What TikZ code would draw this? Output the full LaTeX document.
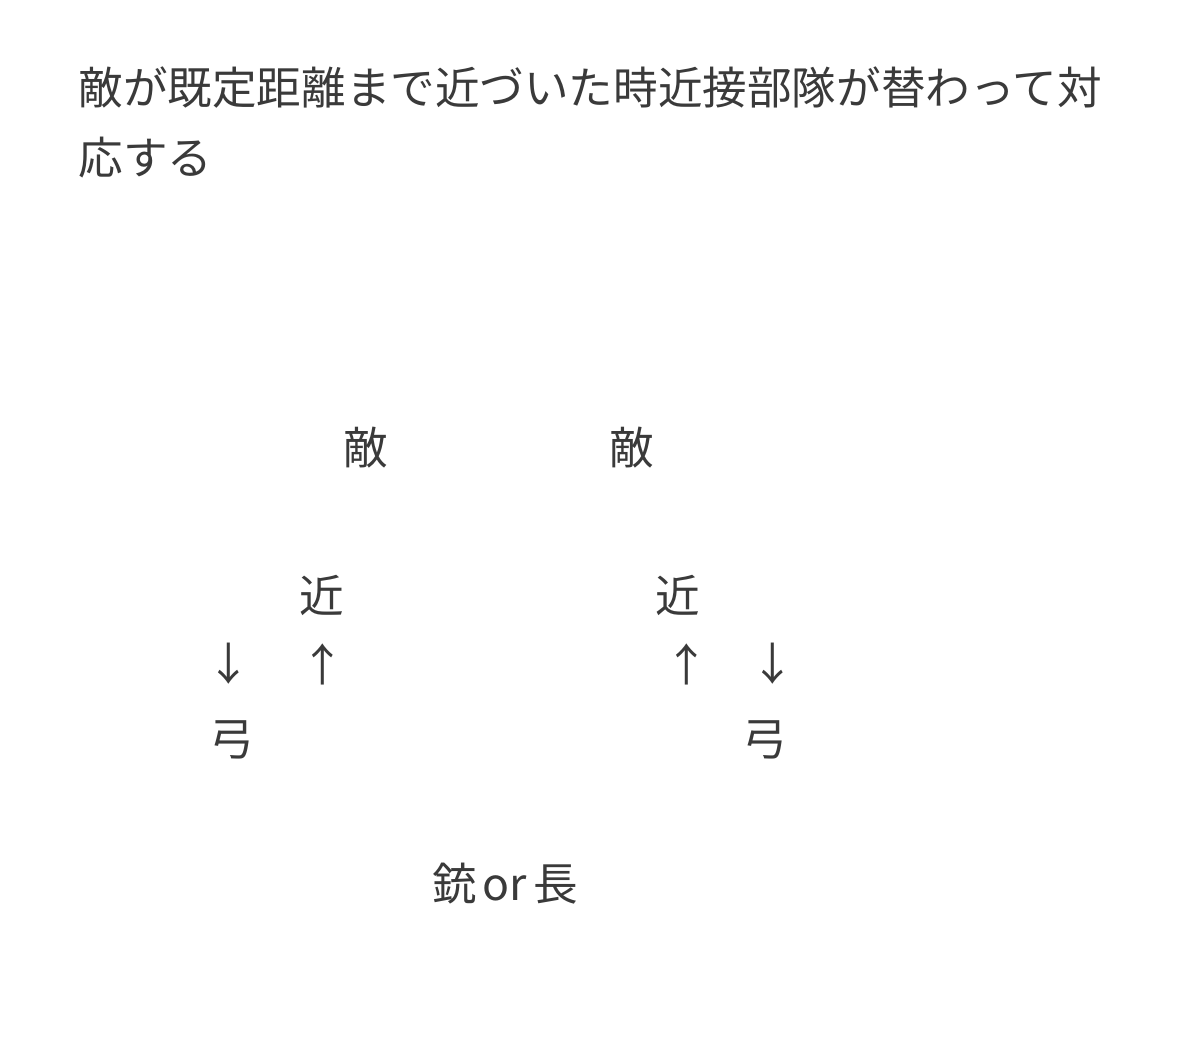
\documentclass[tikz,border=0pt]{standalone}
\usepackage{fontspec}
\newfontfamily\cjk{Noto Sans CJK JP}
\definecolor{ink}{HTML}{3A3A3A}
\begin{document}
\begin{tikzpicture}[x=0.5pt,y=-0.5pt,
  lbl/.style={inner sep=0pt,text=ink,font=\cjk\fontsize{22.3pt}{26pt}\selectfont},
  ttl/.style={lbl,anchor=west}]
\useasboundingbox (0,0) rectangle (1200,1059);
\fill[white] (0,0) rectangle (1200,1059);
\node[ttl] (t1) at (78,88) {敵が既定距離まで近づいた時近接部隊が替わって対};
\node[ttl] (t2) at (78,158) {応する};
\node[lbl] (e1) at (366,448) {敵};
\node[lbl] (e2) at (632,448) {敵};
\node[lbl] (k1) at (322,595) {近};
\node[lbl] (k2) at (678,595) {近};
\node[lbl] (d1) at (229,664) {↓};
\node[lbl] (u1) at (323,664) {↑};
\node[lbl] (u2) at (687,664) {↑};
\node[lbl] (d2) at (773,664) {↓};
\node[lbl] (y1) at (232,740) {弓};
\node[lbl] (y2) at (765,740) {弓};
\node[lbl] (g) at (505,884) {銃\hspace{3pt}or\hspace{3pt}長};
\end{tikzpicture}
\end{document}
